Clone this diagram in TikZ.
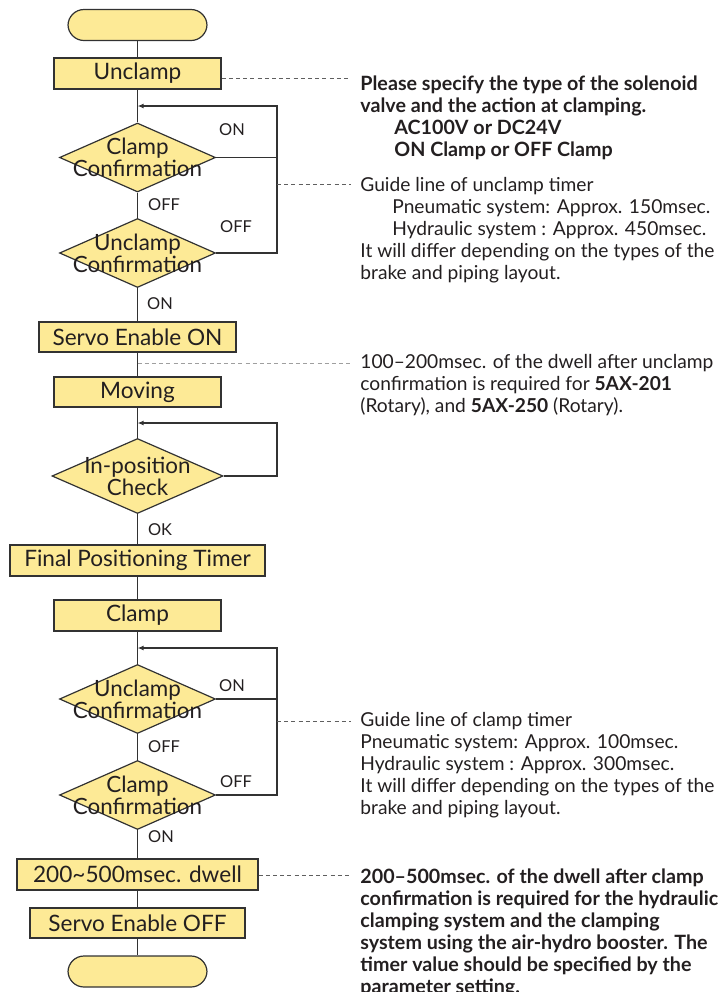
\documentclass[tikz,border=0pt]{standalone}
\usepackage{fontspec}
\setmainfont{Lato}
\usetikzlibrary{arrows.meta,positioning,shapes.geometric}
\definecolor{boxfill}{RGB}{253,234,150}
\definecolor{boxline}{RGB}{50,50,50}
\definecolor{inkdark}{RGB}{35,31,32}
\definecolor{leadgray}{RGB}{95,95,95}

\tikzset{
  process/.style={draw=boxline,fill=boxfill,line width=.6pt,inner sep=0pt,
    minimum height=15.5pt,font=\fontsize{11.3}{11}\selectfont},
  terminal/.style={process,rounded corners=8pt,minimum width=69.5pt},
  decision/.style={diamond,draw=boxline,fill=boxfill,line width=.6pt,inner sep=0pt,
    minimum width=78pt,minimum height=34.5pt},
  dtext/.style={align=center,font=\fontsize{11.2}{11}\selectfont},
  flow/.style={draw=boxline,line width=.6pt},
  back/.style={flow,-{Latex[length=3pt,width=2.4pt]}},
  answer/.style={font=\fontsize{8.2}{9}\selectfont},
  leader/.style={draw=leadgray,line width=.5pt,dash pattern=on 2pt off 1.6pt},
  note/.style={anchor=north west,inner sep=0pt,align=left,
    font=\fontsize{9.6}{11}\selectfont},
  boldnote/.style={note,font=\fontsize{9.85}{11}\selectfont\bfseries}
}

\begin{document}
\begin{tikzpicture}[x=.5pt,y=-.5pt,text=inkdark]
  \useasboundingbox (0,0) rectangle (721,992);

  % flow chart column
  \node[terminal] (start) at (137.5,25) {};
  \node[process,minimum width=83.5pt] (unclamp) at (137.5,73.5) {Unclamp};
  \node[decision,label={[dtext]center:Clamp\\Confirmation}] (clampok1) at (137.5,157.5) {};
  \node[decision,label={[dtext]center:Unclamp\\Confirmation}] (unclampok1) at (137.5,253) {};
  \node[process,minimum width=98.5pt,minimum height=15pt] (servoon) at (137.5,337) {Servo Enable ON};
  \node[process,minimum width=83.5pt,minimum height=15pt] (moving) at (137.5,392) {Moving};
  \node[decision,minimum width=85.5pt,minimum height=37.5pt,
    label={[dtext]center:In-position\\Check}] (inpos) at (137.5,476) {};
  \node[process,minimum width=127.5pt] (fintimer) at (137.5,560.5) {Final Positioning Timer};
  \node[process,minimum width=83.5pt] (clamp) at (137.5,615.5) {Clamp};
  \node[decision,label={[dtext]center:Unclamp\\Confirmation}] (unclampok2) at (137.5,699) {};
  \node[decision,label={[dtext]center:Clamp\\Confirmation}] (clampok2) at (137.5,795) {};
  \node[process,minimum width=120.5pt] (dwell) at (137.5,874.5) {200\textasciitilde500msec. dwell};
  \node[process,minimum width=107.5pt,minimum height=15pt] (servooff) at (137.5,923) {Servo Enable OFF};
  \node[terminal] (stop) at (137.5,971.5) {};

  % main connectors
  \draw[flow] (start) -- (unclamp);
  \draw[flow] (unclamp) -- (clampok1);
  \draw[flow] (clampok1) -- (unclampok1);
  \draw[flow] (unclampok1) -- (servoon);
  \draw[flow] (servoon) -- (moving);
  \draw[flow] (moving) -- (inpos);
  \draw[flow] (inpos) -- (fintimer);
  \draw[flow] (fintimer) -- (clamp);
  \draw[flow] (clamp) -- (unclampok2);
  \draw[flow] (unclampok2) -- (clampok2);
  \draw[flow] (clampok2) -- (dwell);
  \draw[flow] (dwell) -- (servooff);
  \draw[flow] (servooff) -- (stop);

  % loops back
  \coordinate (loopa) at (277,106);
  \coordinate (loopb) at (277,423);
  \coordinate (loopc) at (277,648);
  \draw[back] (unclampok1.east) -| (loopa) -- (loopa -| unclamp.south);
  \draw[flow] (clampok1.east) -- (clampok1.east -| loopa);
  \draw[back] (inpos.east) -| (loopb) -- (loopb -| moving.south);
  \draw[back] (clampok2.east) -| (loopc) -- (loopc -| clamp.south);
  \draw[flow] (unclampok2.east) -- (unclampok2.east -| loopc);

  % answers
  \node[answer] (on1) at (232,130) {ON};
  \node[answer] (off1) at (164,205) {OFF};
  \node[answer] (off2) at (236,227) {OFF};
  \node[answer] (on2) at (160,304) {ON};
  \node[answer] (ok1) at (160,530) {OK};
  \node[answer] (on3) at (232,686) {ON};
  \node[answer] (off3) at (164,747) {OFF};
  \node[answer] (off4) at (236,782) {OFF};
  \node[answer] (on4) at (161,837) {ON};

  % leaders to notes
  \coordinate (lead1) at (351,78);
  \coordinate (lead2) at (351,184);
  \coordinate (lead3) at (351,363);
  \coordinate (lead4) at (351,721);
  \coordinate (lead5) at (351,875);
  \draw[leader] (unclamp.east |- lead1) -- (lead1);
  \draw[leader] (loopa |- lead2) -- (lead2);
  \draw[leader,draw=gray!75] (servoon.south |- lead3) -- (lead3);
  \draw[leader] (loopc |- lead4) -- (lead4);
  \draw[leader] (dwell.east |- lead5) -- (lead5);

  \node[boldnote] (note1) at (360,75)
    {Please specify the type of the solenoid\\
     valve and the action at clamping.\\
     \hspace*{17pt}AC100V or DC24V\\
     \hspace*{17pt}ON Clamp or OFF Clamp};
  \node[note] (note2) at (360,177)
    {Guide line of unclamp timer\\
     \hspace*{16pt}Pneumatic system: Approx. 150msec.\\
     \hspace*{16pt}Hydraulic system : Approx. 450msec.\\
     It will differ depending on the types of the\\
     brake and piping layout.};
  \node[note] (note3) at (360,354)
    {100--200msec. of the dwell after unclamp\\
     confirmation is required for \textbf{5AX-201}\\
     (Rotary), and \textbf{5AX-250} (Rotary).};
  \node[note] (note4) at (360,712)
    {Guide line of clamp timer\\
     Pneumatic system: Approx. 100msec.\\
     Hydraulic system : Approx. 300msec.\\
     It will differ depending on the types of the\\
     brake and piping layout.};
  \node[boldnote] (note5) at (360,868)
    {200--500msec. of the dwell after clamp\\
     confirmation is required for the hydraulic\\
     clamping system and the clamping\\
     system using the air-hydro booster. The\\
     timer value should be specified by the\\
     parameter setting.};
\end{tikzpicture}
\end{document}
